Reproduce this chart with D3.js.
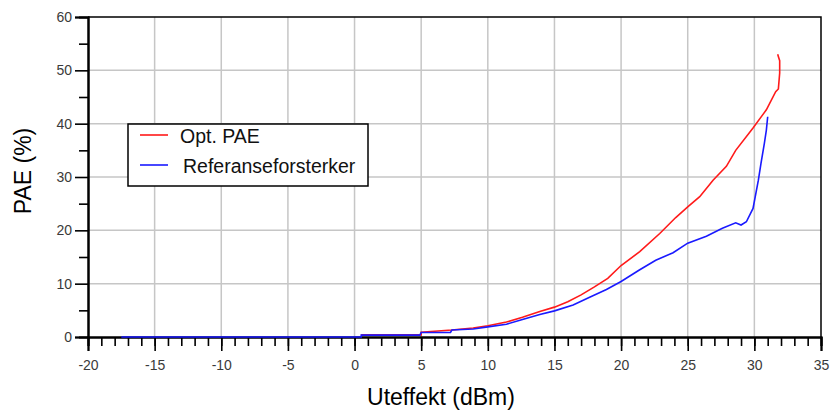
<!DOCTYPE html>
<html>
<head>
<meta charset="utf-8">
<script src="https://cdn.jsdelivr.net/npm/d3@7"></script>
<style>
  html, body { margin: 0; padding: 0; background: #fff; }
  svg { display: block; font-family: Arial, "Liberation Sans", Helvetica, sans-serif; }
</style>
</head>
<body>
<svg id="chart" width="830" height="412"></svg>
<script>
// Output power (dBm) and PAE (%) for the optimised amplifier
const optX = [0.5, 5.0, 5.0, 7.3, 8.9, 10.0, 11.4, 12.6, 13.9, 15.0, 16.0, 17.0, 18.0, 19.0, 20.0,
              21.4, 22.9, 24.1, 25.0, 25.9, 26.9, 27.9, 28.6, 29.9, 30.9, 31.6, 31.8, 31.9, 31.9, 31.8, 31.75];
const optY = [0.4, 0.4, 0.9, 1.3, 1.7, 2.1, 2.8, 3.7, 4.8, 5.6, 6.6, 7.9, 9.4, 11.0, 13.4,
              16.0, 19.4, 22.4, 24.4, 26.3, 29.4, 32.0, 35.0, 39.2, 42.6, 46.0, 46.5, 49.5, 51.8, 52.6, 53.0];

// Output power (dBm) and PAE (%) for the reference amplifier
const refX = [-17.5, 0.5, 0.5, 4.9, 5.0, 7.2, 7.3, 8.9, 10.0, 11.4, 12.6, 13.9, 15.0, 16.4, 17.6, 18.9, 20.0,
              21.4, 22.6, 23.9, 25.0, 26.4, 27.6, 28.6, 29.0, 29.4, 29.9, 30.3, 30.5, 30.75, 30.9, 31.0];
const refY = [0, 0, 0.35, 0.35, 0.85, 0.85, 1.3, 1.5, 1.9, 2.4, 3.3, 4.2, 4.9, 6.0, 7.4, 8.9, 10.4,
              12.6, 14.4, 15.8, 17.6, 18.9, 20.4, 21.4, 21.0, 21.6, 24.1, 29.4, 32.6, 36.3, 38.8, 41.3];

// Axis ticks and labels
const xMajor = [-20, -15, -10, -5, 0, 5, 10, 15, 20, 25, 30, 35];
const xMinor = d3.range(-20, 36, 1);
const yMajor = [0, 10, 20, 30, 40, 50, 60];
const yMinor = [5, 15, 25, 35, 45, 55];

const seriesNames = ["Opt. PAE", "Referanseforsterker"];
const seriesColors = ["#ff1a1a", "#1a1aff"];

const svg = d3.select("#chart");
const x = d3.scaleLinear().domain([-20, 35]).range([88, 821]);
const y = d3.scaleLinear().domain([0, 60]).range([337, 17]);

// grid
const grid = svg.append("g").attr("stroke", "#c6c6c6").attr("stroke-width", 1.5);
grid.selectAll("line.v").data(xMajor.slice(1, -1)).join("line")
  .attr("x1", d => x(d)).attr("x2", d => x(d)).attr("y1", y(0)).attr("y2", y(60));
grid.selectAll("line.h").data(yMajor.slice(1, -1)).join("line")
  .attr("x1", x(-20)).attr("x2", x(35)).attr("y1", d => y(d)).attr("y2", d => y(d));

// frame: top and right edges
svg.append("path")
  .attr("d", `M${x(-20)},${y(60)}H${x(35)}V${y(0)}`)
  .attr("fill", "none").attr("stroke", "#000").attr("stroke-width", 1.5);

// x axis: minor ticks then major ticks with labels
const xMinorAxis = d3.axisBottom(x).tickValues(xMinor).tickSize(9).tickFormat("");
const xMajorAxis = d3.axisBottom(x).tickValues(xMajor).tickSize(14).tickPadding(9)
  .tickFormat(d => String(d));
const gxMinor = svg.append("g").attr("transform", `translate(0,${y(0)})`).call(xMinorAxis);
const gx = svg.append("g").attr("transform", `translate(0,${y(0)})`).call(xMajorAxis);

const yMinorAxis = d3.axisLeft(y).tickValues(yMinor).tickSize(9).tickFormat("");
const yMajorAxis = d3.axisLeft(y).tickValues(yMajor).tickSize(13).tickPadding(3)
  .tickFormat(d => String(d));
const gyMinor = svg.append("g").attr("transform", `translate(${x(-20)},0)`).call(yMinorAxis);
const gy = svg.append("g").attr("transform", `translate(${x(-20)},0)`).call(yMajorAxis);

[gxMinor, gx, gyMinor, gy].forEach(g => {
  g.select(".domain").attr("stroke", "#000").attr("stroke-width", 2);
  g.selectAll(".tick line").attr("stroke", "#000").attr("stroke-width", 1.6);
  g.selectAll(".tick text").attr("fill", "#3a3a3a").attr("font-size", 14)
    .attr("font-family", "Arial, 'Liberation Sans', sans-serif");
});

// series lines
const line = d3.line().x(d => x(d[0])).y(d => y(d[1]));
const optData = optX.map((v, i) => [v, optY[i]]);
const refData = refX.map((v, i) => [v, refY[i]]);
svg.append("path").datum(optData).attr("d", line)
  .attr("fill", "none").attr("stroke", seriesColors[0]).attr("stroke-width", 1.6);
svg.append("path").datum(refData).attr("d", line)
  .attr("fill", "none").attr("stroke", seriesColors[1]).attr("stroke-width", 1.6);

// axis titles
svg.append("text").attr("x", 441).attr("y", 405).attr("text-anchor", "middle")
  .attr("font-size", 23).attr("fill", "#000").text("Uteffekt (dBm)");
svg.append("text").attr("transform", `translate(31,171) rotate(-90)`)
  .attr("text-anchor", "middle").attr("font-size", 23).attr("fill", "#000").text("PAE (%)");

// legend
const lg = svg.append("g");
lg.append("rect").attr("x", 128).attr("y", 124).attr("width", 240).attr("height", 62)
  .attr("fill", "#fff").attr("stroke", "#000").attr("stroke-width", 1.5);
const rows = [{ y: 135, ty: 143, tx: 180 }, { y: 165, ty: 173, tx: 183 }];
rows.forEach((r, i) => {
  lg.append("line").attr("x1", 140).attr("x2", 168).attr("y1", r.y).attr("y2", r.y)
    .attr("stroke", seriesColors[i]).attr("stroke-width", 1.6);
  lg.append("text").attr("x", r.tx).attr("y", r.ty).attr("font-size", 19.5)
    .attr("fill", "#111").text(seriesNames[i]);
});
</script>
</body>
</html>
